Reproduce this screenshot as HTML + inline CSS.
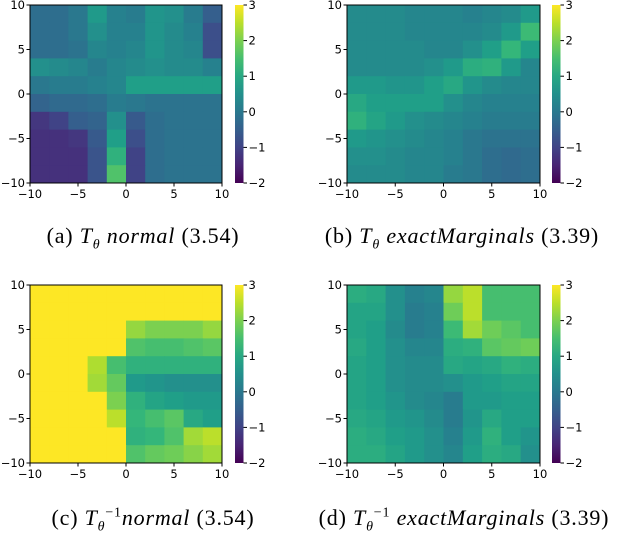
<!DOCTYPE html>
<html><head><meta charset="utf-8">
<style>
body{margin:0;background:#fff;width:618px;height:534px;overflow:hidden;position:relative}
svg{position:absolute;left:0;top:0}
.cap{position:absolute;font-family:"Liberation Serif",serif;font-size:22px;letter-spacing:0.8px;color:#000;white-space:nowrap;transform:translateX(-50%)}
.cap sub,.cap sup{font-size:14px}
</style></head>
<body>
<svg id="fig" width="618" height="534"></svg>
<div class="cap" style="left:143px;top:223px">(a) <i>T</i><sub><i>θ</i></sub> <i>normal</i> (3.54)</div>
<div class="cap" style="left:462px;top:223px">(b) <i>T</i><sub><i>θ</i></sub> <i>exactMarginals</i> (3.39)</div>
<div class="cap" style="left:153px;top:505px">(c) <i>T</i><sub><i>θ</i></sub><sup>−1</sup><i>normal</i> (3.54)</div>
<div class="cap" style="left:464px;top:505px">(d) <i>T</i><sub><i>θ</i></sub><sup>−1</sup> <i>exactMarginals</i> (3.39)</div>
<script>
const ticks=[-10,-5,0,5,10];
const cbTicks=[-2,-1,0,1,2,3];
const gridA=[
[-0.2,-0.2,0.0,0.7,0.2,0.1,0.6,0.5,0.1,-0.5],
[-0.2,-0.2,0.0,0.5,0.2,0.2,0.6,0.4,0.2,-0.8],
[-0.2,-0.2,-0.1,0.3,0.2,0.3,0.6,0.4,0.3,-0.8],
[0.5,0.4,0.3,0.1,0.3,0.4,0.5,0.4,0.4,0.2],
[0.0,0.1,0.1,0.2,0.3,0.8,0.8,0.8,0.8,0.8],
[-0.4,-0.3,-0.3,-0.2,0.1,0.0,-0.1,-0.1,-0.1,-0.1],
[-1.2,-1.0,-0.5,-0.4,0.5,-0.6,-0.2,-0.1,-0.1,-0.1],
[-1.3,-1.3,-1.2,-0.6,0.8,-0.8,-0.2,-0.1,-0.1,-0.1],
[-1.3,-1.3,-1.3,-0.7,1.2,-1.0,-0.2,-0.1,-0.1,-0.1],
[-1.3,-1.3,-1.3,-0.7,1.6,-1.0,-0.2,-0.1,-0.1,-0.1]];
const gridB=[
[0.4,0.4,0.4,0.3,0.3,0.3,0.2,0.3,0.4,0.7],
[0.4,0.4,0.4,0.3,0.3,0.3,0.3,0.4,0.7,1.4],
[0.4,0.4,0.4,0.4,0.3,0.3,0.5,0.8,1.3,0.8],
[0.4,0.4,0.4,0.4,0.5,0.7,1.1,1.2,0.7,0.3],
[0.7,0.7,0.6,0.6,0.8,1.0,0.6,0.4,0.3,0.3],
[1.0,0.8,0.8,0.8,0.8,0.5,0.3,0.2,0.2,0.2],
[1.2,0.9,0.7,0.5,0.4,0.3,0.2,0.1,0.1,0.1],
[0.7,0.6,0.5,0.4,0.3,0.2,0.0,-0.1,-0.1,-0.1],
[0.5,0.5,0.4,0.3,0.3,0.2,0.0,-0.2,-0.3,-0.2],
[0.4,0.4,0.4,0.3,0.3,0.1,0.0,-0.2,-0.3,-0.2]];
const gridC=[
[3,3,3,3,3,3,3,3,3,3],
[3,3,3,3,3,3,3,3,3,3],
[3,3,3,3,3,2.2,2.0,2.0,2.0,2.2],
[3,3,3,3,3,1.6,1.5,1.5,1.6,1.7],
[3,3,3,2.4,1.5,1.2,1.2,1.2,1.2,1.2],
[3,3,3,2.3,1.8,0.7,0.6,0.5,0.5,0.5],
[3,3,3,3,2.0,1.2,0.9,0.8,0.7,0.7],
[3,3,3,3,2.5,1.3,1.5,1.7,1.0,0.8],
[3,3,3,3,3,1.2,1.3,1.6,2.3,2.5],
[3,3,3,3,3,1.6,1.8,1.9,2.1,2.3]];
const gridD=[
[1.1,1.0,0.5,0.2,0.3,2.2,2.5,1.5,1.5,1.5],
[0.9,0.9,0.5,0.1,0.2,1.9,2.5,1.5,1.5,1.5],
[0.9,0.8,0.4,0.1,0.2,1.4,2.3,1.9,1.7,1.5],
[1.0,0.8,0.5,0.3,0.3,1.1,1.2,1.7,1.8,1.9],
[0.9,0.8,0.5,0.4,0.4,1.0,0.9,1.0,1.2,1.1],
[0.9,0.8,0.5,0.4,0.4,0.5,0.7,0.8,0.9,0.9],
[0.9,0.8,0.6,0.4,0.3,0.1,0.7,0.7,0.8,0.8],
[1.0,0.9,0.7,0.6,0.4,0.1,0.6,1.0,0.8,0.8],
[1.1,1.0,0.8,0.7,0.5,0.2,0.7,1.2,0.8,0.6],
[1.1,1.1,0.9,0.7,0.5,0.3,0.8,1.1,1.0,0.5]];

const VIR=[[68,1,84],[72,40,120],[62,74,137],[49,104,142],[38,130,142],[31,158,137],[53,183,121],[109,205,89],[180,222,44],[253,231,37]];
function vir(t){t=Math.max(0,Math.min(1,t));const p=t*9,i=Math.min(8,Math.floor(p)),f=p-i;const a=VIR[i],b=VIR[i+1];return `rgb(${a.map((v,k)=>Math.round(v+(b[k]-v)*f)).join(',')})`;}
const svg=document.getElementById('fig');const NS='http://www.w3.org/2000/svg';
function mk(tag,attrs,parent){const e=document.createElementNS(NS,tag);for(const k in attrs)e.setAttribute(k,attrs[k]);(parent||svg).appendChild(e);return e;}
function panel(key,grid,x0,x1,y0,y1,cbx){
  const g=mk('g',{});
  
  
  const sx=v=>x0+(v+10)/20*(x1-x0), sy=v=>y1-(v+10)/20*(y1-y0);
  const nr=grid.length,nc=grid[0].length;
  grid.forEach((row,r)=>row.forEach((val,c)=>{
    const xa=sx(-10+20*c/nc),xb=sx(-10+20*(c+1)/nc),ya=sy(10-20*r/nr),yb=sy(10-20*(r+1)/nr);
    const rc=mk('rect',{x:xa,y:ya,width:xb-xa+0.5,height:yb-ya+0.5,fill:vir((val+2)/5)},g);
    
    
  }));
  const fr=mk('rect',{x:x0,y:y0,width:x1-x0,height:y1-y0,fill:'none',stroke:'#000','stroke-width':1},g);
  
  
  ticks.forEach(t=>{
    mk('line',{x1:sx(t),x2:sx(t),y1:y1,y2:y1+3.5,stroke:'#000'},g);
    const tx=mk('text',{x:sx(t),y:y1+15,'text-anchor':'middle','font-family':'DejaVu Sans, sans-serif','font-size':11.5},g);
    tx.textContent=t<0?'−'+(-t):t;
    
    
    mk('line',{x1:x0-3.5,x2:x0,y1:sy(t),y2:sy(t),stroke:'#000'},g);
    const ty=mk('text',{x:x0-5,y:sy(t)+4,'text-anchor':'end','font-family':'DejaVu Sans, sans-serif','font-size':11.5},g);
    ty.textContent=t<0?'−'+(-t):t;
    
    
  });
  const cw=8.5;
  const gid='cbg'+key;
  const defs=mk('defs',{},g);const lg=mk('linearGradient',{id:gid,x1:0,y1:1,x2:0,y2:0},defs);
  for(let i=0;i<=10;i++)mk('stop',{offset:i/10,'stop-color':vir(i/10)},lg);
  const cb=mk('rect',{x:cbx,y:y0,width:cw,height:y1-y0,fill:`url(#${gid})`},g);
  
  
  cbTicks.forEach(t=>{
    const yy=y1-(t+2)/5*(y1-y0);
    mk('line',{x1:cbx+cw,x2:cbx+cw+3.5,y1:yy,y2:yy,stroke:'#000'},g);
    const tl=mk('text',{x:cbx+cw+5,y:yy+4,'font-family':'DejaVu Sans, sans-serif','font-size':11.5},g);
    tl.textContent=t<0?'−'+(-t):t;
    
    
  });
}
panel('a',gridA,30,222,5,183,235);
panel('b',gridB,347,540,5,183,552);
panel('c',gridC,30,222,285,463,235);
panel('d',gridD,347,540,285,463,552);
</script>
</body></html>
